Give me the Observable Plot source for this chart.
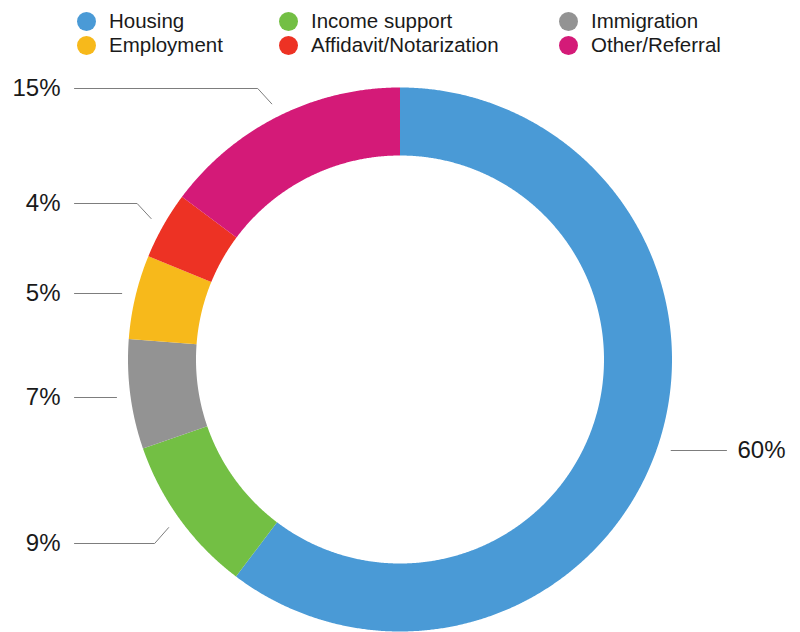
<!DOCTYPE html>
<html>
<head>
<meta charset="utf-8">
<script src="https://cdn.jsdelivr.net/npm/d3@7"></script>
<script src="https://cdn.jsdelivr.net/npm/@observablehq/plot@0.6"></script>
<style>
  html, body { margin: 0; padding: 0; background: #fff; }
  body { width: 800px; height: 632px; overflow: hidden; font-family: "Liberation Sans", Arial, Helvetica, sans-serif; }
  #legend { position: relative; width: 800px; height: 60px; }
  .item { position: absolute; display: flex; align-items: center; height: 24px; font-size: 20.5px; color: #1a1a1a; white-space: nowrap; }
  .sw { width: 19px; height: 19px; border-radius: 50%; margin-right: 13.5px; flex: none; }
  #chart svg { display: block; overflow: visible; }
</style>
</head>
<body>
<div id="legend"></div>
<div id="chart"></div>
<script>
// ---- data ----
const categories = ["Housing", "Income support", "Immigration", "Employment", "Affidavit/Notarization", "Other/Referral"];
const shares = [60.3, 9.4, 6.5, 5.0, 4.0, 14.8];   // slice sizes as drawn
const shareLabels = ["60%", "9%", "7%", "5%", "4%", "15%"];
const colors = ["#4a9ad6", "#73bf44", "#939393", "#f7b91b", "#ed3224", "#d41a78"];
const legendOrder = ["Housing", "Income support", "Immigration", "Employment", "Affidavit/Notarization", "Other/Referral"];

// ---- layout (pixels) ----
const W = 800, H = 572;
const cx = 399.5, cy = 299, R = 272, innerRatio = 204 / 272;
const leaderRadius = 286 / 272;
const labelYpx = [390, 483, 337, 233, 143, 28];   // label rows in svg pixels
const leftLineEnd = 74, leftTextX = 60, rightLineEnd = 726, rightTextX = 737;
const legendColX = [86, 288, 568], legendRowY = [21, 45];

// ---- legend ----
const colorOf = new Map(categories.map((c, i) => [c, colors[i]]));
const legend = document.getElementById("legend");
legendOrder.forEach((c, i) => {
  const col = i % 3, row = Math.floor(i / 3);
  const d = document.createElement("div");
  d.className = "item";
  d.style.left = (legendColX[col] - 9.5) + "px";
  d.style.top = (legendRowY[row] - 12) + "px";
  d.innerHTML = `<span class="sw" style="background:${colorOf.get(c)}"></span><span>${c}</span>`;
  legend.appendChild(d);
});

// ---- geometry from values ----
const total = d3.sum(shares);
const pxToUx = (px) => (px - cx) / R;
const pxToUy = (py) => (cy - py) / R;
let acc = 0;
const slices = categories.map((c, i) => {
  const a0 = acc / total * 2 * Math.PI;
  acc += shares[i];
  const a1 = acc / total * 2 * Math.PI;
  return {key: c, a0, a1, mid: (a0 + a1) / 2, label: shareLabels[i], color: colors[i], labelY: pxToUy(labelYpx[i])};
});

const ring = [];
for (const s of slices) {
  const n = Math.max(8, Math.ceil((s.a1 - s.a0) / 0.005));
  for (let k = 0; k <= n; k++) {
    const a = s.a0 + (s.a1 - s.a0) * k / n;
    ring.push({key: s.key, x: Math.sin(a), y: Math.cos(a)});
  }
  for (let k = n; k >= 0; k--) {
    const a = s.a0 + (s.a1 - s.a0) * k / n;
    ring.push({key: s.key, x: innerRatio * Math.sin(a), y: innerRatio * Math.cos(a)});
  }
}

const leaders = [];
const labelPts = [];
for (const s of slices) {
  const right = Math.sin(s.mid) > 0;
  const sgn = right ? 1 : -1;
  const sx = leaderRadius * Math.sin(s.mid), sy = leaderRadius * Math.cos(s.mid);
  const endX = pxToUx(right ? rightLineEnd : leftLineEnd);
  if (Math.abs(sy - s.labelY) * R < 10) {
    const hx = sgn * Math.sqrt(leaderRadius ** 2 - s.labelY ** 2);
    leaders.push({key: s.key, x: hx, y: s.labelY}, {key: s.key, x: endX, y: s.labelY});
  } else {
    const ex = sx + sgn * 14 / R;
    leaders.push({key: s.key, x: sx, y: sy}, {key: s.key, x: ex, y: s.labelY}, {key: s.key, x: endX, y: s.labelY});
  }
  labelPts.push({key: s.key, right, text: s.label, x: pxToUx(right ? rightTextX : leftTextX), y: s.labelY});
}

const chart = Plot.plot({
  width: W, height: H,
  margin: 0,
  x: {domain: [-1, 1], range: [cx - R, cx + R], axis: null},
  y: {domain: [-1, 1], range: [cy + R, cy - R], axis: null},
  color: {domain: categories, range: colors},
  style: {fontFamily: "'Liberation Sans', Arial, Helvetica, sans-serif", background: "#fff"},
  marks: [
    Plot.line(ring, {x: "x", y: "y", z: "key", fill: "key", stroke: null, curve: "linear"}),
    Plot.line(leaders, {x: "x", y: "y", z: "key", stroke: "#7d7d7d", strokeWidth: 1}),
    Plot.text(labelPts.filter(d => !d.right), {x: "x", y: "y", text: "text", textAnchor: "end", fontSize: 24, fill: "#1a1a1a"}),
    Plot.text(labelPts.filter(d => d.right), {x: "x", y: "y", text: "text", textAnchor: "start", fontSize: 24, fill: "#1a1a1a"})
  ]
});
document.getElementById("chart").appendChild(chart);
</script>
</body>
</html>
